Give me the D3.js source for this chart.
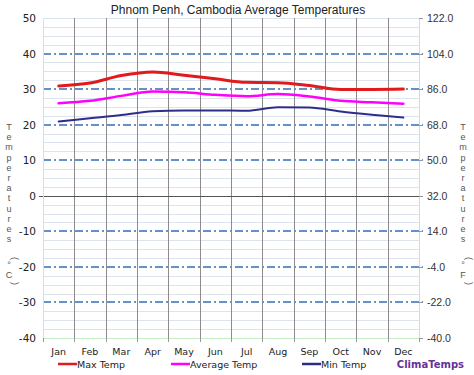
<!DOCTYPE html>
<html><head><meta charset="utf-8">
<script src="https://cdn.jsdelivr.net/npm/d3@7"></script>
<style>body{margin:0;background:#fff}svg{display:block}</style>
</head><body>
<svg id="c" width="474" height="375"></svg>
<script>
const months = ["Jan","Feb","Mar","Apr","May","Jun","Jul","Aug","Sep","Oct","Nov","Dec"];
const maxTemp = [30.9, 31.7, 33.8, 34.8, 33.9, 32.9, 31.9, 31.8, 31.0, 29.9, 29.9, 30.0];
const avgTemp = [26.0, 26.7, 28.1, 29.3, 29.1, 28.4, 28.0, 28.6, 27.9, 26.7, 26.3, 25.9];
const minTemp = [20.9, 21.8, 22.7, 23.8, 24.0, 24.0, 23.9, 24.9, 24.8, 23.7, 22.8, 22.0];
const yTicks = [50, 40, 30, 20, 10, 0, -10, -20, -30, -40];
const title = "Phnom Penh, Cambodia Average Temperatures";
const leftLabel = ["T","e","m","p","e","r","a","t","u","r","e","s"];

const svg = d3.select("#c");
const L = 43, R = 419, T = 18, B = 338;
const x = d3.scaleBand().domain(months).range([L, R]).padding(0);
const y = d3.scaleLinear().domain([-40, 50]).range([B, T]);
const py = v => Math.round(y(v)) + 0.5;
const font = "'DejaVu Sans', Verdana, sans-serif";

// minor grid every 2.5
const minor = d3.range(-40, 50.01, 2.5).filter(v => v % 10 !== 0);
svg.append("g").attr("shape-rendering", "crispEdges").selectAll("line").data(minor).join("line")
  .attr("x1", L).attr("x2", R).attr("y1", d => py(d)).attr("y2", d => py(d))
  .attr("stroke", "#dde4ee").attr("stroke-width", 1);

// top line
svg.append("line").attr("x1", L).attr("x2", R).attr("y1", py(50)).attr("y2", py(50))
  .attr("stroke", "#dde4ee").attr("shape-rendering", "crispEdges");

// vertical month separators
const bounds = d3.range(1, 12).map(i => Math.round(L + i * x.bandwidth()) + 0.5);
svg.append("g").attr("shape-rendering", "crispEdges").selectAll("line").data(bounds).join("line")
  .attr("x1", d => d).attr("x2", d => d).attr("y1", T).attr("y2", B)
  .attr("stroke", "#8c8c8c").attr("stroke-width", 1);

// major dash-dot lines
svg.append("g").attr("shape-rendering", "crispEdges").selectAll("line").data(yTicks.filter(v => v !== 0 && v !== 50 && v !== -40)).join("line")
  .attr("x1", L).attr("x2", R + 4).attr("y1", d => Math.round(y(d))).attr("y2", d => Math.round(y(d)))
  .attr("stroke", "#6690c8").attr("stroke-width", 2)
  .attr("stroke-dasharray", "8,3,2,3");

// zero line
svg.append("line").attr("x1", L - 4).attr("x2", R + 4).attr("y1", py(0)).attr("y2", py(0))
  .attr("stroke", "#555").attr("stroke-width", 1).attr("shape-rendering", "crispEdges");

// borders
svg.append("line").attr("x1", L + 0.5).attr("x2", L + 0.5).attr("y1", T).attr("y2", B).attr("stroke", "#c6efc6").attr("shape-rendering", "crispEdges");
svg.append("line").attr("x1", L).attr("x2", R).attr("y1", B + 0.5).attr("y2", B + 0.5).attr("stroke", "#c6efc6").attr("shape-rendering", "crispEdges");
svg.append("line").attr("x1", R + 0.5).attr("x2", R + 0.5).attr("y1", T).attr("y2", B).attr("stroke", "#d8d8d8").attr("shape-rendering", "crispEdges");

// bottom ticks
svg.append("g").attr("shape-rendering", "crispEdges").selectAll("line").data(d3.range(0, 13).map(i => Math.round(L + i * x.bandwidth()) + 0.5)).join("line")
  .attr("x1", d => d).attr("x2", d => d).attr("y1", B).attr("y2", B + 4)
  .attr("stroke", "#999");
// right ticks
svg.append("g").attr("shape-rendering", "crispEdges").selectAll("line").data(yTicks).join("line")
  .attr("x1", R).attr("x2", R + 4).attr("y1", d => py(d)).attr("y2", d => py(d))
  .attr("stroke", "#999");

// left tick labels
svg.append("g").selectAll("text").data(yTicks).join("text")
  .attr("x", 36).attr("y", d => y(d) + 4).attr("text-anchor", "end")
  .attr("font-family", font).attr("font-size", 10.5).attr("fill", "#222")
  .text(d => d);
// right tick labels (F)
svg.append("g").selectAll("text").data(yTicks).join("text")
  .attr("x", 427).attr("y", d => y(d) + 4).attr("text-anchor", "start")
  .attr("font-family", "'Liberation Sans', Arial, sans-serif").attr("font-size", 10.5).attr("fill", "#333")
  .text(d => (d * 1.8 + 32).toFixed(1));

// month labels
svg.append("g").selectAll("text").data(months).join("text")
  .attr("x", d => x(d) + x.bandwidth() / 2).attr("y", 355).attr("text-anchor", "middle")
  .attr("font-family", font).attr("font-size", 9.5).attr("fill", "#222")
  .text(d => d);

// title
svg.append("text").attr("x", 238).attr("y", 14).attr("text-anchor", "middle")
  .attr("font-family", "'Liberation Sans', Arial, sans-serif").attr("font-size", 12).attr("fill", "#222")
  .text(title);

// vertical axis titles
function vertLabel(cx, unit) {
  const g = svg.append("g").attr("font-family", "'Liberation Sans', Arial, sans-serif")
    .attr("font-size", 9).attr("fill", "#555");
  leftLabel.forEach((ch, i) => {
    g.append("text").attr("x", cx).attr("y", 130 + i * 10.2).attr("text-anchor", "middle").text(ch);
  });
  const base = 130 + 12 * 10.2;
  g.append("text").attr("transform", `translate(${cx + 3},${base + 6}) rotate(90)`).attr("text-anchor", "middle").text("(");
  g.append("text").attr("x", cx).attr("y", base + 16).attr("text-anchor", "middle").text("°");
  g.append("text").attr("x", cx).attr("y", base + 26).attr("text-anchor", "middle").text(unit);
  g.append("text").attr("transform", `translate(${cx + 3},${base + 31}) rotate(90)`).attr("text-anchor", "middle").text(")");
}
vertLabel(9, "C");
vertLabel(463, "F");

// series lines
const line = d3.line().x((d, i) => x(months[i]) + x.bandwidth() / 2).y(d => y(d)).curve(d3.curveMonotoneX);
const series = [
  {name: "Max Temp", vals: maxTemp, color: "#e31a1c", w: 3},
  {name: "Average Temp", vals: avgTemp, color: "#ff00ff", w: 2.5},
  {name: "Min Temp", vals: minTemp, color: "#2e2e8a", w: 2}
];
series.forEach(s => {
  svg.append("path").datum(s.vals).attr("d", line).attr("fill", "none")
    .attr("stroke", s.color).attr("stroke-width", s.w).attr("stroke-linecap", "round");
});

// legend
const legX = [58, 171, 302];
series.forEach((s, i) => {
  svg.append("line").attr("x1", legX[i]).attr("x2", legX[i] + 19).attr("y1", 364).attr("y2", 364)
    .attr("stroke", s.color).attr("stroke-width", 2.5);
  svg.append("text").attr("x", legX[i] + 19).attr("y", 368).attr("font-family", font)
    .attr("font-size", 9.5).attr("fill", "#222").text(s.name);
});
svg.append("text").attr("x", 464).attr("y", 368).attr("text-anchor", "end")
  .attr("font-family", font).attr("font-weight", "bold").attr("font-size", 10).attr("fill", "#663399")
  .text("ClimaTemps");
</script>
</body></html>
